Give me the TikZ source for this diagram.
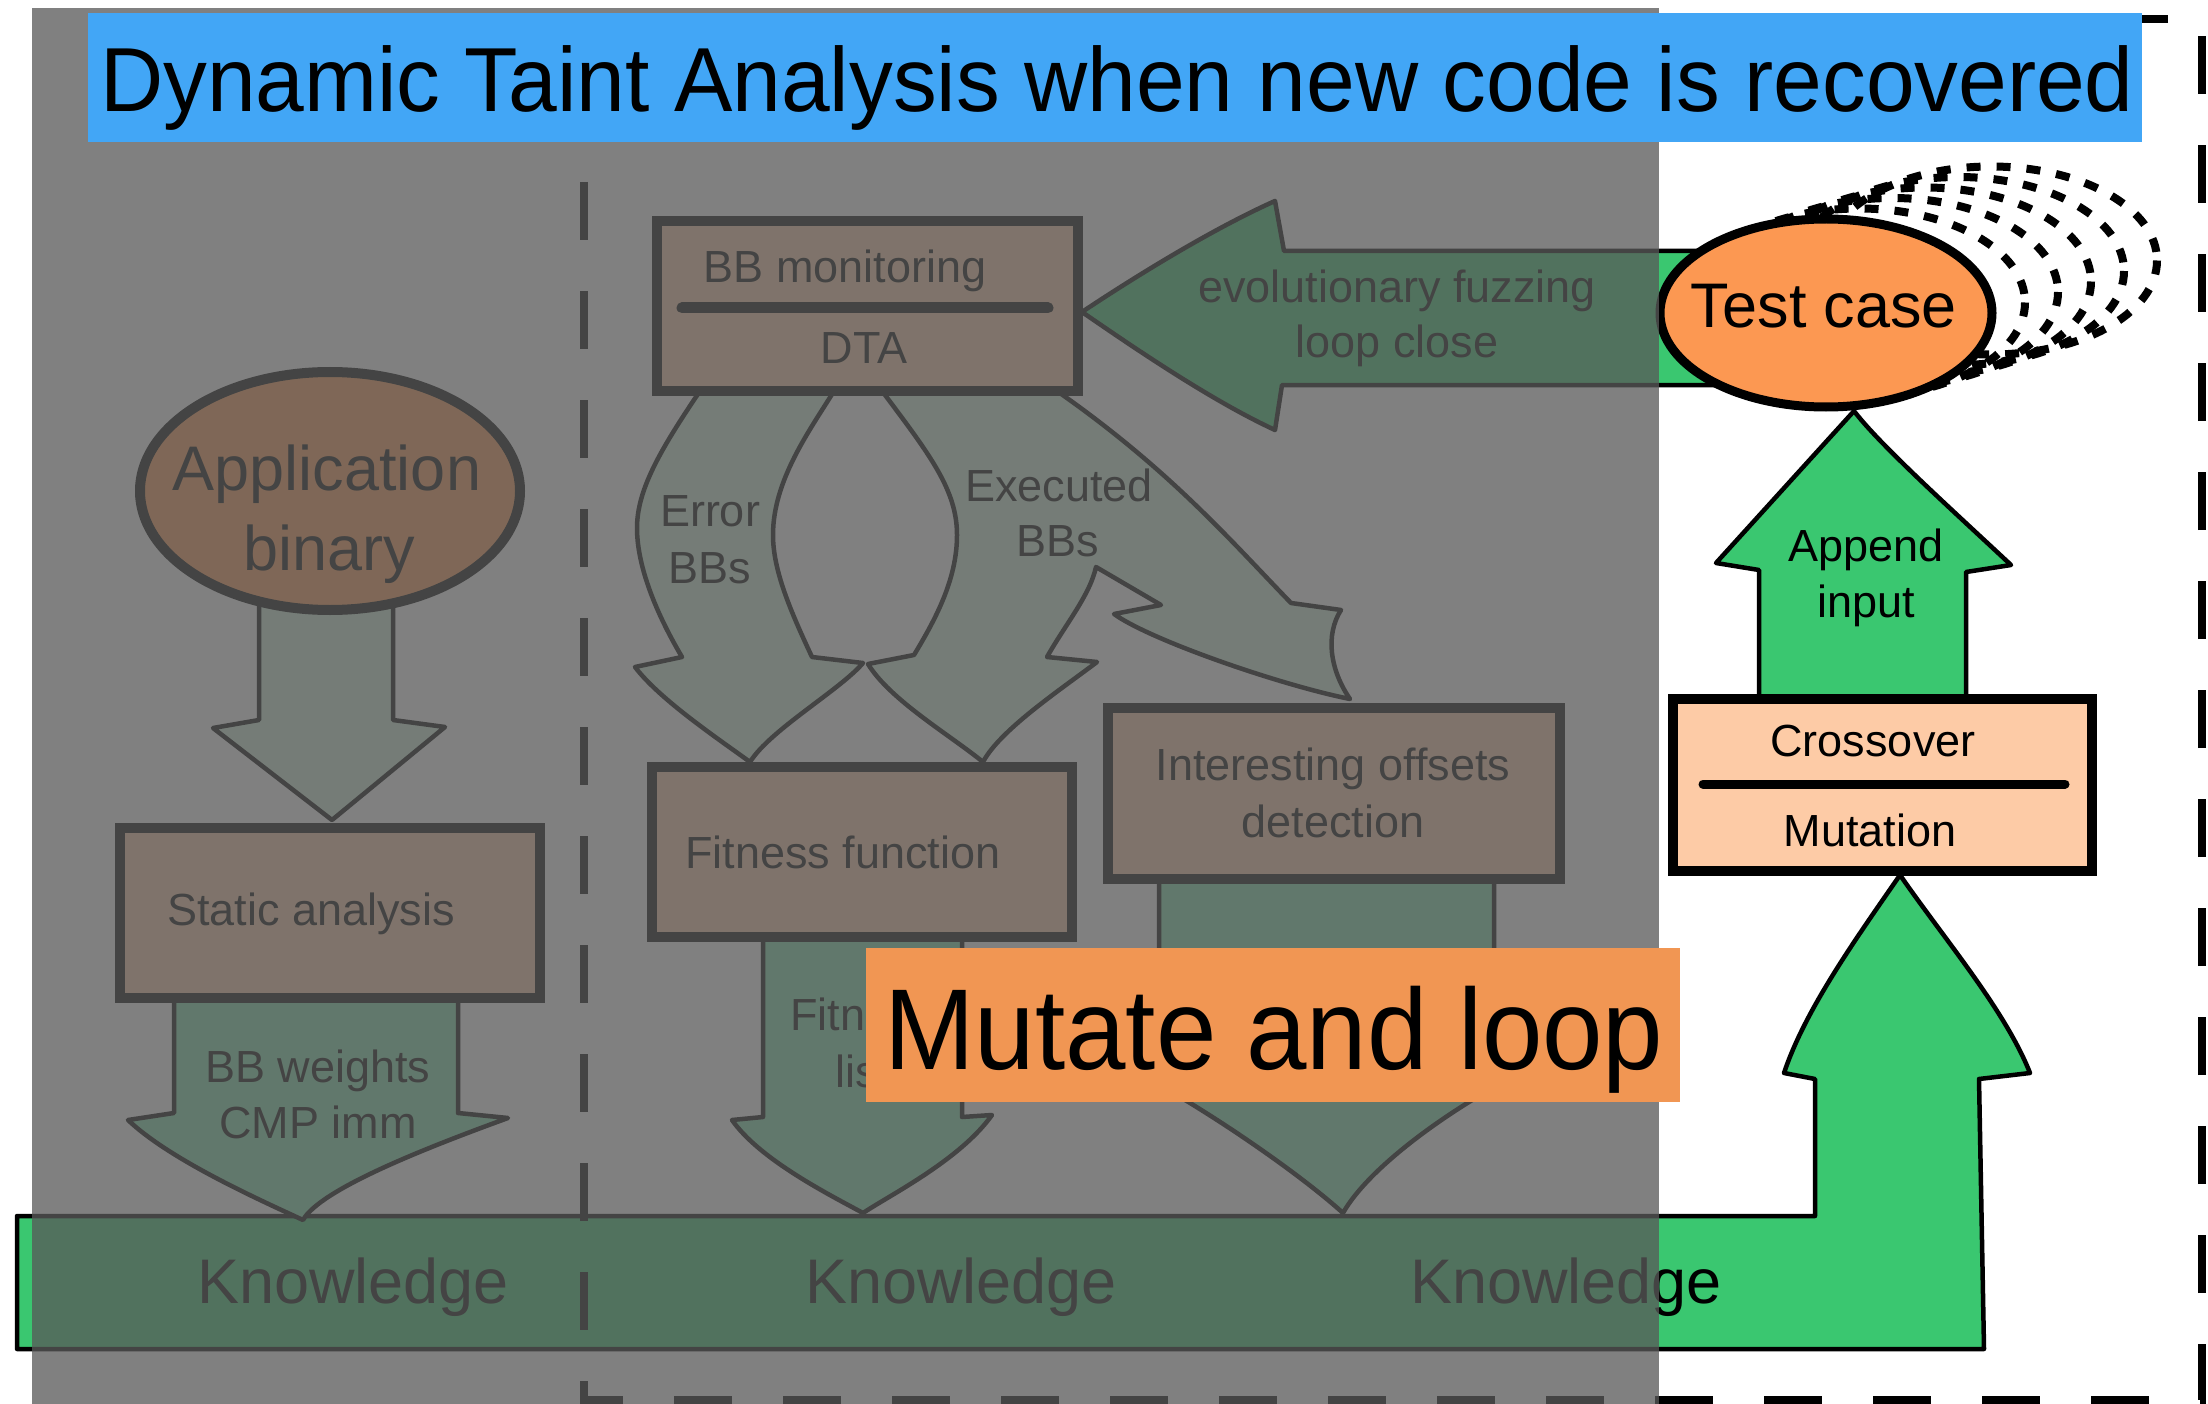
\documentclass[tikz,border=0pt]{standalone}
\usepackage{graphicx}
\usepackage{fontspec}
\setmainfont{Liberation Sans}
\usetikzlibrary{shapes.geometric}
\definecolor{kgreen}{RGB}{58,199,112}
\definecolor{midgreen}{RGB}{127,221,170}
\definecolor{lightgreen}{RGB}{208,238,217}
\definecolor{peach}{RGB}{253,203,166}
\definecolor{tcorange}{RGB}{252,152,82}
\definecolor{bandblue}{RGB}{66,166,246}
\definecolor{labelorange}{RGB}{241,150,83}
\definecolor{veil}{RGB}{89,89,89}
\newcommand\figS{\fontsize{45}{54}\selectfont}
\newcommand\figB{\fontsize{63}{75}\selectfont}
\begin{document}
\begin{tikzpicture}[x=1pt,y=-1pt,
  box/.style={draw=black, line width=10pt, fill=peach, inner sep=0pt, rectangle},
  blk/.style={draw=black, line width=4.5pt, line join=round},
  lbl/.style={font=\figS, inner sep=0pt, anchor=base, text=black},
  big/.style={font=\figB, inner sep=0pt, anchor=base, text=black},
  dotell/.style={draw=black, line width=8pt, dash pattern=on 14pt off 16pt},
  divider/.style={draw=black, line cap=round},
]
\useasboundingbox (0,0) rectangle (2208,1404);
\fill[white] (0,0) rectangle (2208,1404);

% ---------- big Knowledge arrow ----------
\draw[blk, fill=kgreen] (17,1216) -- (1815,1216) -- (1815,1079) -- (1784,1073)
  .. controls (1805,1010) and (1855,940) .. (1900,875)
  .. controls (1945,940) and (2005,1010) .. (2030,1073)
  -- (1979,1079) -- (1984,1349) -- (17,1349) -- cycle;

% ---------- medium arrows ----------
\draw[blk, fill=midgreen] (174,990) -- (174,1113) -- (128,1120)
  .. controls (170,1160) and (260,1200) .. (303,1220)
  .. controls (320,1190) and (420,1150) .. (508,1118)
  -- (458,1113) -- (458,990) -- cycle;
\draw[blk, fill=midgreen] (763,930) -- (763,1117) -- (732,1120)
  .. controls (760,1160) and (830,1195) .. (863,1213)
  .. controls (890,1195) and (960,1160) .. (992,1115)
  -- (962,1117) -- (962,930) -- cycle;
\draw[blk, fill=midgreen] (1159,875) -- (1159,1055) -- (1110,1060)
  .. controls (1170,1085) and (1290,1165) .. (1343,1213)
  .. controls (1370,1165) and (1460,1100) .. (1550,1058)
  -- (1494,1055) -- (1494,875) -- cycle;

% ---------- light arrows ----------
\draw[blk, fill=lightgreen] (259,590) -- (259,720) -- (213,728) -- (332,820)
  -- (445,727) -- (393,720) -- (393,590) -- cycle;
% Error BBs
\draw[blk, fill=lightgreen] (700,391)
  .. controls (660,450) and (637,490) .. (637,528)
  .. controls (637,570) and (660,620) .. (682,657)
  -- (635,667)
  .. controls (660,700) and (720,740) .. (750,762)
  .. controls (770,730) and (840,690) .. (863,663)
  -- (812,657)
  .. controls (790,610) and (773,570) .. (773,535)
  .. controls (773,480) and (810,430) .. (834,391) -- cycle;
% Executed BBs (forked)
\draw[blk, fill=lightgreen] (882,391)
  .. controls (930,455) and (957,490) .. (957,535)
  .. controls (957,580) and (935,620) .. (914,655)
  -- (868,664)
  .. controls (890,700) and (950,735) .. (983,762)
  .. controls (1000,730) and (1060,690) .. (1097,662)
  -- (1047,657)
  .. controls (1065,625) and (1090,595) .. (1096,567)
  -- (1161,605) -- (1114,614)
  .. controls (1150,640) and (1280,685) .. (1350,699)
  .. controls (1330,670) and (1325,635) .. (1341,610)
  -- (1291,603)
  .. controls (1230,540) and (1170,470) .. (1057,391) -- cycle;

% ---------- evolutionary fuzzing arrow ----------
\draw[blk, fill=kgreen] (1760,251) -- (1284,251) -- (1275,201)
  .. controls (1210,230) and (1130,280) .. (1082,312)
  .. controls (1130,345) and (1210,400) .. (1275,430)
  -- (1282,385) -- (1760,385) -- cycle;

% ---------- Append input arrow ----------
\draw[blk, fill=kgreen] (1759,699) -- (1759,570) -- (1716,563) -- (1854,411)
  .. controls (1880,445) and (1950,508) .. (2011,565)
  -- (1966,572) -- (1966,699) -- cycle;

% ---------- boxes ----------
\node[box, minimum width=421pt, minimum height=170pt] (bbm) at (867.5,306) {};
\draw[divider, line width=11pt] (682,308) -- (1048,308);
\node[box, minimum width=420pt, minimum height=170pt] (static) at (330,913) {};
\node[box, minimum width=420pt, minimum height=170pt] (fitness) at (862,852) {};
\node[box, minimum width=452pt, minimum height=171pt] (offsets) at (1334,793.5) {};
\node[box, minimum width=419pt, minimum height=172pt] (cross) at (1882.5,785) {};
\draw[divider, line width=9pt] (1703,784) -- (2065,784);

% ---------- ellipses ----------
\node[draw=black, line width=10pt, fill=tcorange, ellipse, inner sep=0pt,
  minimum width=380pt, minimum height=238pt] (app) at (330,491) {};
\foreach \k in {5,4,3,2,1}
  \draw[dotell] (1826+33*\k, 313-10.5*\k) ellipse [x radius=166, y radius=94];
\node[draw=black, line width=9pt, fill=tcorange, ellipse, inner sep=0pt,
  minimum width=332pt, minimum height=188pt] (tc) at (1826,313) {};

% ---------- texts ----------
\node[big] (tApp) at (327,490) {Application};
\node[big] (tBin) at (329,570) {binary};
\node[big] (tTc) at (1824,328) {Test case};
\node[lbl] (tBbm) at (845,283) {BB monitoring};
\node[lbl] (tDta) at (864,363) {DTA};
\node[lbl] (tErr1) at (710,526) {Error};
\node[lbl] (tErr2) at (710,583) {BBs};
\node[lbl] (tEx1) at (1059,501) {Executed};
\node[lbl] (tEx2) at (1058,556) {BBs};
\node[lbl] (tEvo1) at (1397,303) {evolutionary fuzzing};
\node[lbl] (tEvo2) at (1397,358) {loop close};
\node[lbl, anchor=base west] (tStat) at (167,925) {Static analysis};
\node[lbl, anchor=base west] (tFit) at (685,868) {Fitness function};
\node[lbl] (tOff1) at (1333,780) {Interesting offsets};
\node[lbl] (tOff2) at (1333,837) {detection};
\node[lbl] (tW1) at (318,1082) {BB weights};
\node[lbl] (tW2) at (318,1138) {CMP imm};
\node[lbl] (tFl1) at (863,1030) {Fitness};
\node[lbl] (tFl2) at (863,1087) {list};
\node[lbl] (tAp1) at (1866,561) {Append};
\node[lbl] (tAp2) at (1866,617) {input};
\node[lbl] (tCr) at (1873,756) {Crossover};
\node[lbl] (tMu) at (1870,846) {Mutation};
\node[big, anchor=base west] (k1) at (197,1303) {Knowledge};
\node[big, anchor=base west] (k2) at (805,1303) {Knowledge};
\node[big, anchor=base west] (k3) at (1410,1303) {Knowledge};

% ---------- dashed frame ----------
\draw[line width=8pt, dash pattern=on 58pt off 51pt, dash phase=55pt]
  (584,19) -- (584,1400) -- (2202,1400) -- (2202,19) -- cycle;

% ---------- veil ----------
\fill[veil, fill opacity=0.766] (32,8) rectangle (1659,1404);

% ---------- slide labels ----------
\node[fill=bandblue, inner sep=0pt, anchor=north west, minimum width=2054pt,
  minimum height=129pt] (band) at (88,13) {};
\node[anchor=base west, inner sep=0pt] (title) at (100,112)
  {\scalebox{0.962}[1]{\fontsize{91}{100}\selectfont Dynamic Taint Analysis when new code is recovered}};
\node[fill=labelorange, inner sep=0pt, anchor=north west, minimum width=814pt,
  minimum height=154pt] (mlbl) at (866,948) {};
\node[anchor=base west, inner sep=0pt] (mtxt) at (884,1069)
  {\scalebox{0.945}[1]{\fontsize{115}{120}\selectfont Mutate and loop}};
\end{tikzpicture}
\end{document}
